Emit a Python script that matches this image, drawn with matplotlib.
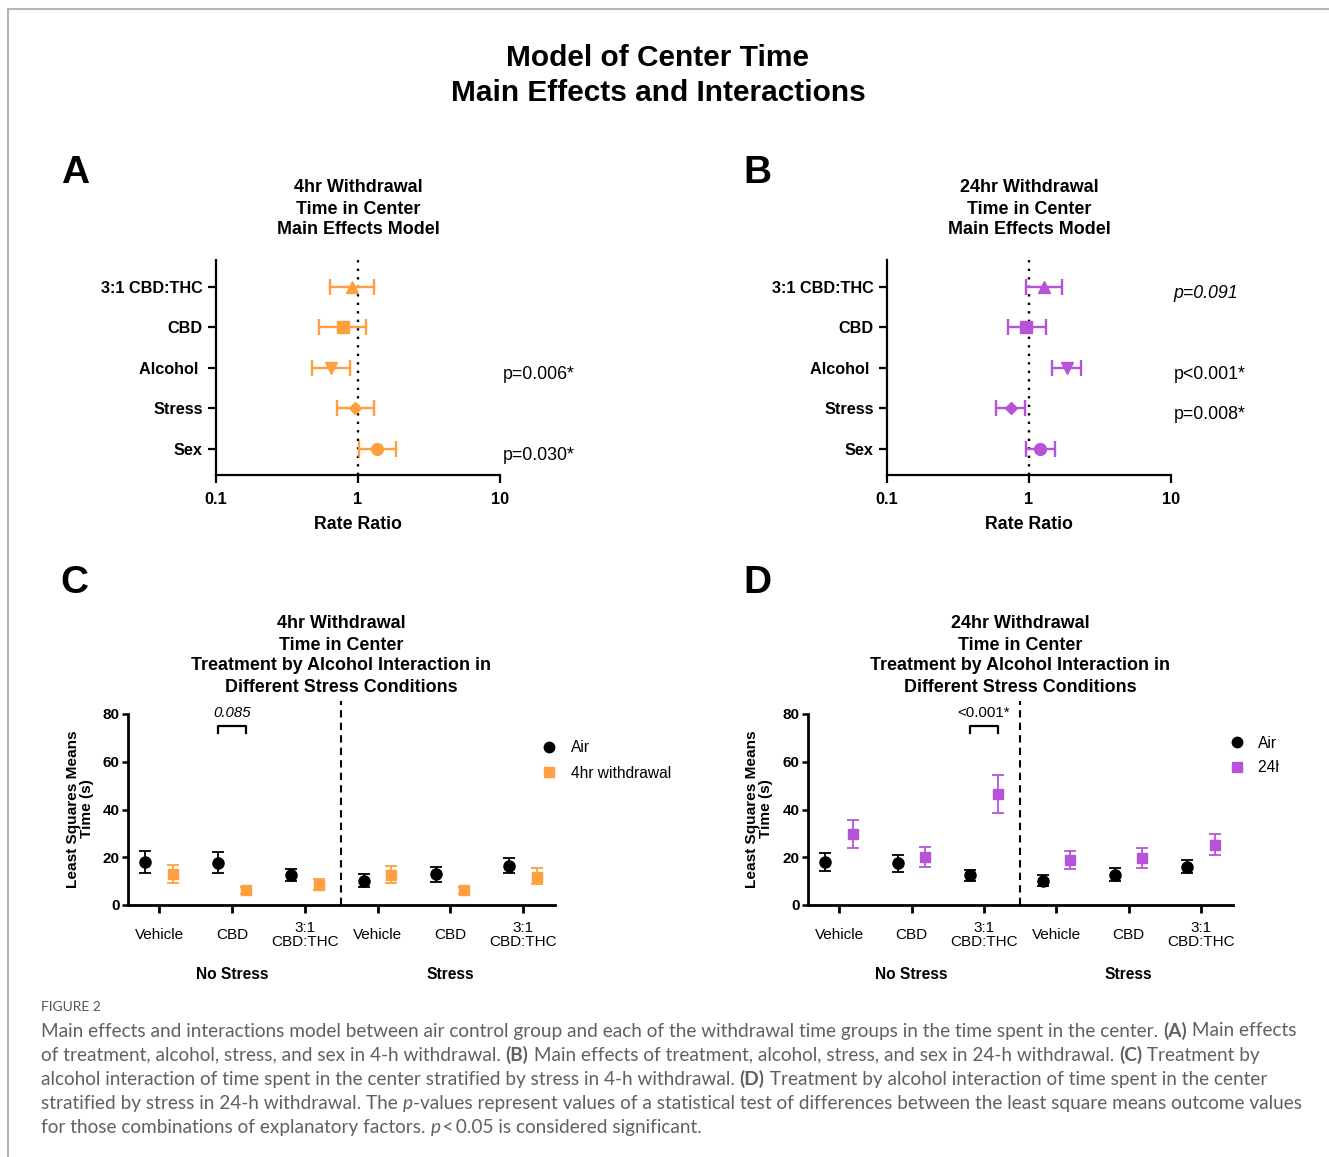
import matplotlib
matplotlib.use("Agg")
import matplotlib.pyplot as plt
import numpy as np
from matplotlib.lines import Line2D
from matplotlib.ticker import NullLocator
from matplotlib.transforms import Bbox, TransformedBbox

plt.rcParams['font.family'] = ['Liberation Sans', 'DejaVu Sans']

W, H = 1329, 1157

# ---------------- data ----------------
factors = ["Sex", "Stress", "Alcohol ", "CBD", "3:1 CBD:THC"]
factor_markers = ["o", "D", "v", "s", "^"]

rr_4hr = [1.37, 0.95, 0.645, 0.79, 0.90]
rr_4hr_lo = [1.02, 0.715, 0.477, 0.53, 0.635]
rr_4hr_hi = [1.84, 1.30, 0.88, 1.14, 1.30]
p_4hr = ["p=0.030*", "", "p=0.006*", "", ""]

rr_24hr = [1.19, 0.746, 1.84, 0.96, 1.28]
rr_24hr_lo = [0.95, 0.59, 1.46, 0.71, 0.96]
rr_24hr_hi = [1.52, 0.93, 2.32, 1.31, 1.70]
p_24hr = ["", "p=0.008*", "p<0.001*", "", "p=0.091"]
p_24hr_italic = [False, False, False, False, True]

treatments = ["Vehicle", "CBD", "3:1\nCBD:THC", "Vehicle", "CBD", "3:1\nCBD:THC"]
stress_groups = ["No Stress", "Stress"]

air_4 = [18.0, 17.7, 12.6, 10.2, 12.9, 16.3]
air_4_lo = [13.6, 13.6, 10.0, 7.6, 9.5, 13.2]
air_4_hi = [22.5, 22.2, 15.2, 12.9, 16.1, 19.5]
wd_4 = [12.9, 6.3, 8.4, 12.6, 6.3, 11.8]
wd_4_lo = [9.4, 4.8, 6.2, 9.1, 4.8, 8.7]
wd_4_hi = [16.6, 7.7, 10.8, 16.3, 7.7, 15.3]

air_24 = [18.0, 17.4, 12.5, 10.1, 12.6, 16.0]
air_24_lo = [14.3, 13.9, 10.2, 8.1, 10.0, 13.5]
air_24_hi = [21.9, 21.1, 14.7, 12.6, 15.3, 18.7]
wd_24 = [29.8, 20.2, 46.5, 18.9, 19.6, 25.0]
wd_24_lo = [23.9, 16.0, 38.6, 15.0, 15.6, 20.8]
wd_24_hi = [35.8, 24.4, 54.6, 22.6, 23.9, 29.6]

ORANGE = "#ff9f3f"
PURPLE = "#b653d9"
BOLD = dict(fontweight="bold")
NARROW = ['Liberation Sans Narrow', 'Liberation Sans', 'DejaVu Sans']

fig = plt.figure(figsize=(W / 100, H / 100), dpi=100)


def px(x, y):
    return x / W, 1 - y / H


def make_axes(l, t, r, b):
    return fig.add_axes([l / W, 1 - b / H, (r - l) / W, (b - t) / H])


def ftext(x, y, s, **kw):
    kw.setdefault("ha", "center")
    kw.setdefault("va", "center")
    return fig.text(*px(x, y), s, **kw)


# frame of the figure panel
fig.add_artist(Line2D([8 / W, 8 / W], [0, 1 - 9 / H], transform=fig.transFigure,
                      color="#b5b5b5", lw=1.5))
fig.add_artist(Line2D([8 / W, 1], [1 - 9 / H, 1 - 9 / H], transform=fig.transFigure,
                      color="#b5b5b5", lw=1.5))

# main title
ftext(658, 58, "Model of Center Time", fontsize=21.5, **BOLD)
ftext(658, 93, "Main Effects and Interactions", fontsize=21.5, **BOLD)

# panel letters
for letter, x, y in [("A", 75, 173), ("B", 757, 173), ("C", 74, 583), ("D", 757, 583)]:
    ftext(x, y, letter, fontsize=28, **BOLD)

# panel titles
for cx, lines in [(358, ["4hr Withdrawal", "Time in Center", "Main Effects Model"]),
                  (1029, ["24hr Withdrawal", "Time in Center", "Main Effects Model"])]:
    for i, s in enumerate(lines):
        ftext(cx, 188 + 21 * i, s, fontsize=12.9, **BOLD)
for cx, first in [(341, "4hr Withdrawal"), (1020, "24hr Withdrawal")]:
    lines = [first, "Time in Center", "Treatment by Alcohol Interaction in",
             "Different Stress Conditions"]
    for i, s in enumerate(lines):
        ftext(cx, 624 + 21 * i, s, fontsize=12.9, **BOLD)


def forest(ax, vals, lo, hi, color, ptexts, pitalic=None):
    y = np.arange(len(factors))
    for yi, v, l, h, m in zip(y, vals, lo, hi, factor_markers):
        ms = 6 if m == "D" else 8.5
        ax.errorbar(v, yi, xerr=[[v - l], [h - v]], fmt=m, color=color, ms=ms,
                    capsize=5.5, elinewidth=1.7, capthick=1.7, zorder=3)
    ax.set_xscale("log")
    ax.set_xlim(0.1, 10)
    ax.set_ylim(-0.65, 4.67)
    ax.axvline(1, color="k", ls=(0, (1, 2.6)), lw=1.7, zorder=1)
    for s in ["top", "right"]:
        ax.spines[s].set_visible(False)
    for s in ["left", "bottom"]:
        ax.spines[s].set_linewidth(1.6)
    ax.set_yticks(y, factors, fontsize=11.7, **BOLD)
    ax.set_xticks([0.1, 1, 10], ["0.1", "1", "10"], fontsize=11.7, **BOLD)
    ax.xaxis.set_minor_locator(NullLocator())
    ax.tick_params(axis="y", length=6, width=1.6, pad=3.5)
    ax.tick_params(axis="x", length=5.5, width=1.6, pad=6.5)
    ax.set_xlabel("Rate Ratio", fontsize=12.8, labelpad=7, **BOLD)
    if pitalic is None:
        pitalic = [False] * len(ptexts)
    for yi, s, it in zip(y, ptexts, pitalic):
        if s:
            ax.text(1.01, yi - 0.16, s, transform=ax.get_yaxis_transform(),
                    ha="left", va="center", fontsize=12.8,
                    style="italic" if it else "normal")


axA = make_axes(216, 260, 500, 475)
forest(axA, rr_4hr, rr_4hr_lo, rr_4hr_hi, ORANGE, p_4hr)
axB = make_axes(887, 260, 1171, 475)
forest(axB, rr_24hr, rr_24hr_lo, rr_24hr_hi, PURPLE, p_24hr, p_24hr_italic)


def interaction(ax, air, air_lo, air_hi, wd, wd_lo, wd_hi, color, bracket_at,
                ptext, pitalic):
    x = np.arange(len(treatments))
    air, air_lo, air_hi = map(np.array, (air, air_lo, air_hi))
    wd, wd_lo, wd_hi = map(np.array, (wd, wd_lo, wd_hi))
    ax.errorbar(x - 0.19, air, yerr=[air - air_lo, air_hi - air], fmt="o", color="k",
                ms=8, capsize=4.5, elinewidth=1.3, capthick=1.3, zorder=3)
    ax.errorbar(x + 0.19, wd, yerr=[wd - wd_lo, wd_hi - wd], fmt="s", color=color,
                ms=7.5, capsize=4.5, elinewidth=1.3, capthick=1.3, zorder=3)
    ax.set_xlim(-0.43, 5.44)
    ax.set_ylim(0, 80)
    ax.axvline(2.5, ymin=0, ymax=85.5 / 80, ls=(0, (3.5, 2.5)), color="k", lw=1.5,
               clip_on=False)
    for s in ["top", "right"]:
        ax.spines[s].set_visible(False)
    for s in ["left", "bottom"]:
        ax.spines[s].set_linewidth(2)
    ax.set_yticks([0, 20, 40, 60, 80])
    ax.set_yticklabels(["0", "20", "40", "60", "80"], fontsize=11,
                       family=NARROW, **BOLD)
    ax.set_xticks(x, [""] * len(x))
    ax.tick_params(axis="y", length=4, width=1.8, pad=2)
    ax.tick_params(axis="x", length=6, width=2)
    for xi, lab in zip(x, treatments):
        ax.annotate(lab, (xi, 0), xycoords=ax.get_xaxis_transform(),
                    xytext=(0, -21.5), textcoords="offset points",
                    ha="center", va="center", fontsize=11, linespacing=1.05,
                    annotation_clip=False)
    for gi, g in enumerate(stress_groups):
        ax.annotate(g, (1 + 3 * gi, 0), xycoords=ax.get_xaxis_transform(),
                    xytext=(0, -50), textcoords="offset points",
                    ha="center", va="center", fontsize=11.2, annotation_clip=False,
                    **BOLD)
    b0, b1 = bracket_at - 0.19, bracket_at + 0.19
    ax.plot([b0, b0, b1, b1], [72.2, 75.1, 75.1, 72.2], color="k", lw=1.6,
            clip_on=False)
    ax.text(bracket_at, 80.6, ptext, ha="center", va="center", fontsize=10.8,
            style="italic" if pitalic else "normal", clip_on=False)


axC = make_axes(128, 714, 555, 905)
interaction(axC, air_4, air_4_lo, air_4_hi, wd_4, wd_4_lo, wd_4_hi, ORANGE, 1,
            "0.085", True)
axD = make_axes(808, 714, 1233, 905)
interaction(axD, air_24, air_24_lo, air_24_hi, wd_24, wd_24_lo, wd_24_hi, PURPLE, 2,
            "<0.001*", False)

# y labels
for cx in (80, 759):
    ftext(cx, 809, "Least Squares Means\nTime (s)", rotation=90, fontsize=11.1,
          linespacing=1.05, **BOLD)

# legends (drawn by hand, the 24hr one runs off the panel edge as in the source)
clip = TransformedBbox(Bbox([[0, 0], [1279 / W, 1]]), fig.transFigure)
for mx, tx, ys, color, lab in [(549, 571, (747, 772), ORANGE, "4hr withdrawal"),
                               (1237, 1258, (742, 767), PURPLE, "24hr withdrawal")]:
    fig.add_artist(Line2D([mx / W], [1 - ys[0] / H], transform=fig.transFigure,
                          marker="o", ms=7.5, color="k", ls="none"))
    fig.add_artist(Line2D([mx / W], [1 - ys[1] / H], transform=fig.transFigure,
                          marker="s", ms=7, color=color, ls="none"))
    ftext(tx, ys[0] + 1, "Air", ha="left", fontsize=11.2)
    t = ftext(tx, ys[1] + 1, lab, ha="left", fontsize=11.2)
    t.set_clip_box(clip)
    t.set_clip_on(True)

# caption
CAP = ['Lato', 'DejaVu Sans']
CAP_COLOR = "#606060"
ftext(41, 1007, "FIGURE 2", ha="left", fontsize=10, color="#555555", family=CAP)

caption = [
    [("Main effects and interactions model between air control group and each of the "
      "withdrawal time groups in the time spent in the center. ", "n"), ("(A)", "b"),
     (" Main effects", "n")],
    [("of treatment, alcohol, stress, and sex in 4-h withdrawal. ", "n"), ("(B)", "b"),
     (" Main effects of treatment, alcohol, stress, and sex in 24-h withdrawal. ", "n"),
     ("(C)", "b"), (" Treatment by", "n")],
    [("alcohol interaction of time spent in the center stratified by stress in 4-h "
      "withdrawal. ", "n"), ("(D)", "b"),
     (" Treatment by alcohol interaction of time spent in the center", "n")],
    [("stratified by stress in 24-h withdrawal. The ", "n"), ("p", "i"),
     ("-values represent values of a statistical test of differences between the least "
      "square means outcome values", "n")],
    [("for those combinations of explanatory factors. ", "n"), ("p", "i"),
     ("\u2009<\u20090.05 is considered significant.", "n")],
]

renderer = fig.canvas.get_renderer()


def seg_kw(style, size):
    kw = dict(fontsize=size, family=CAP, color=CAP_COLOR)
    if style == "b":
        kw["fontweight"] = "bold"
    if style == "i":
        kw["style"] = "italic"
    return kw


def seg_width(s, style, size):
    t = fig.text(0, 0, s + "|", **seg_kw(style, size))
    w1 = t.get_window_extent(renderer).width
    t.set_text("|")
    w2 = t.get_window_extent(renderer).width
    t.remove()
    return w1 - w2


# fit the caption so that the longest lines end near the right margin
size = 12.0
w_first = sum(seg_width(s, st, size) for s, st in caption[0])
w_fourth = sum(seg_width(s, st, size) for s, st in caption[3])
size = size * (1293 - 41) / ((w_first + w_fourth) / 2)

for i, line in enumerate(caption):
    x = 41
    y = 1031 + 24 * i
    for s, st in line:
        ftext(x, y, s, ha="left", **seg_kw(st, size))
        x += seg_width(s, st, size)

fig.savefig("out.png", dpi=100)
